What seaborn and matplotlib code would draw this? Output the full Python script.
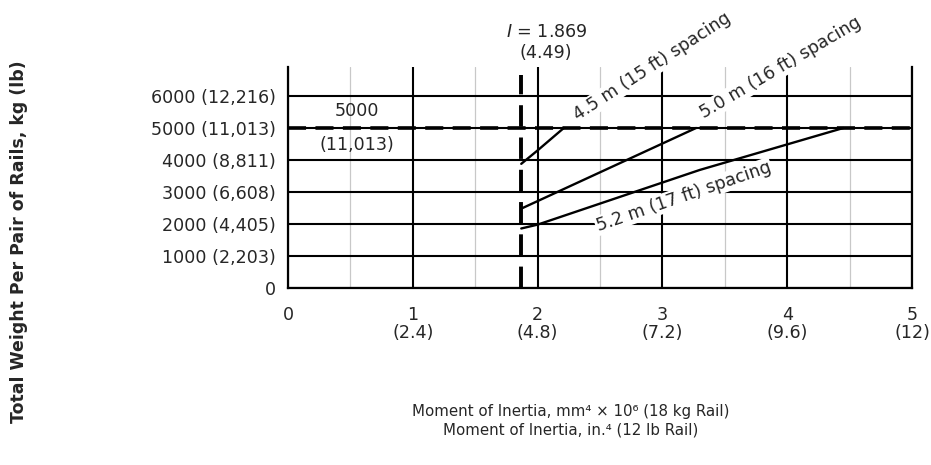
import matplotlib
matplotlib.use("Agg")
import matplotlib.pyplot as plt
import seaborn as sns
import pandas as pd
from matplotlib.ticker import MultipleLocator

# ---- data ----
x_ticks = [0, 1, 2, 3, 4, 5]
x_tick_labels = ["0", "1\n(2.4)", "2\n(4.8)", "3\n(7.2)", "4\n(9.6)", "5\n(12)"]
y_ticks = [0, 1000, 2000, 3000, 4000, 5000, 6000]
y_tick_labels = ["0", "1000 (2,203)", "2000 (4,405)", "3000 (6,608)",
                 "4000 (8,811)", "5000 (11,013)", "6000 (12,216)"]

spacing_labels = ["4.5 m (15 ft) spacing", "5.0 m (16 ft) spacing", "5.2 m (17 ft) spacing"]
x_45 = [1.869, 2.0, 2.21]
y_45 = [3880, 4300, 5000]
x_50 = [1.869, 3.27]
y_50 = [2480, 5000]
x_52 = [1.869, 2.0, 3.3, 4.45]
y_52 = [1860, 1980, 3690, 5000]

weight_limit = 5000
weight_limit_label = "5000\n\n(11,013)"
inertia_min = 1.869
inertia_label = "$I$ = 1.869\n(4.49)"
inertia_line_top = 6650

df = pd.concat([
    pd.DataFrame({"x": x_45, "y": y_45, "s": spacing_labels[0]}),
    pd.DataFrame({"x": x_50, "y": y_50, "s": spacing_labels[1]}),
    pd.DataFrame({"x": x_52, "y": y_52, "s": spacing_labels[2]}),
])

# ---- style ----
sns.set_style("white")
plt.rcParams["font.family"] = ["DejaVu Sans"]
plt.rcParams["mathtext.fontset"] = "dejavusans"
txt = "#262626"
fs = 12.6

fig = plt.figure(figsize=(9.31, 4.65), dpi=100)
ax = fig.add_axes([288 / 931, 1 - 288 / 465, (912 - 288) / 931, (288 - 67.2) / 465])

sns.lineplot(data=df, x="x", y="y", hue="s", palette=["black"] * 3,
             sort=False, estimator=None, legend=False, lw=1.7, ax=ax, zorder=4)

ax.set_xlim(0, 5)
ax.set_ylim(0, 6900)

# grid
ax.set_xticks(x_ticks)
ax.set_yticks(y_ticks)
ax.xaxis.set_minor_locator(MultipleLocator(0.5))
ax.grid(True, which="major", color="black", lw=1.5, zorder=1)
ax.grid(True, which="minor", axis="x", color="#c8c8c8", lw=0.9, zorder=0)
ax.set_axisbelow(True)
for side in ["left", "right", "bottom"]:
    ax.spines[side].set_color("black")
    ax.spines[side].set_linewidth(1.6)
ax.spines["top"].set_visible(False)

ax.set_xticklabels(x_tick_labels, fontsize=fs, color=txt, linespacing=1.0)
ax.set_yticklabels(y_tick_labels, fontsize=fs, color=txt)
ax.tick_params(axis="both", which="both", length=0)
ax.tick_params(axis="x", pad=13)
ax.tick_params(axis="y", pad=8.5)
ax.set_xlabel("")
ax.set_ylabel("")

# limit lines
ax.axhline(weight_limit, color="black", lw=2.6, dashes=(5, 2.6), zorder=3)
ax.plot([inertia_min, inertia_min], [0, inertia_line_top], color="black",
        lw=2.8, dashes=(5.5, 2.8), zorder=3, clip_on=False)

# annotations
ax.text(0.55, weight_limit, weight_limit_label, ha="center", va="center",
        fontsize=fs, color=txt, linespacing=0.9, zorder=5)
ax.text(inertia_min + 0.2, 7680, inertia_label, ha="center", va="center",
        fontsize=fs, color=txt, linespacing=1.2, clip_on=False)

bb = dict(facecolor="white", edgecolor="none", pad=0.8)
ax.text(2.92, 6930, spacing_labels[0], rotation=33, ha="center", va="center",
        fontsize=fs, color=txt, bbox=bb, zorder=6, clip_on=False, rotation_mode="anchor")
ax.text(3.95, 6900, spacing_labels[1], rotation=30.5, ha="center", va="center",
        fontsize=fs, color=txt, bbox=bb, zorder=6, clip_on=False, rotation_mode="anchor")
ax.text(3.17, 2860, spacing_labels[2], rotation=19, ha="center", va="center",
        fontsize=fs, color=txt, bbox=bb, zorder=6, rotation_mode="anchor")

fig.text(571 / 931, 1 - 421 / 465,
         "Moment of Inertia, mm\u2074 \u00d7 10\u2076 (18 kg Rail)\nMoment of Inertia, in.\u2074 (12 lb Rail)",
         ha="center", va="center", fontsize=10.8, color=txt, linespacing=1.3)
fig.text(19 / 931, 1 - 242 / 465, "Total Weight Per Pair of Rails, kg (lb)",
         rotation=90, ha="center", va="center", fontsize=12.5, color=txt, fontweight="bold")

fig.savefig("out.png", dpi=100, facecolor="white")
